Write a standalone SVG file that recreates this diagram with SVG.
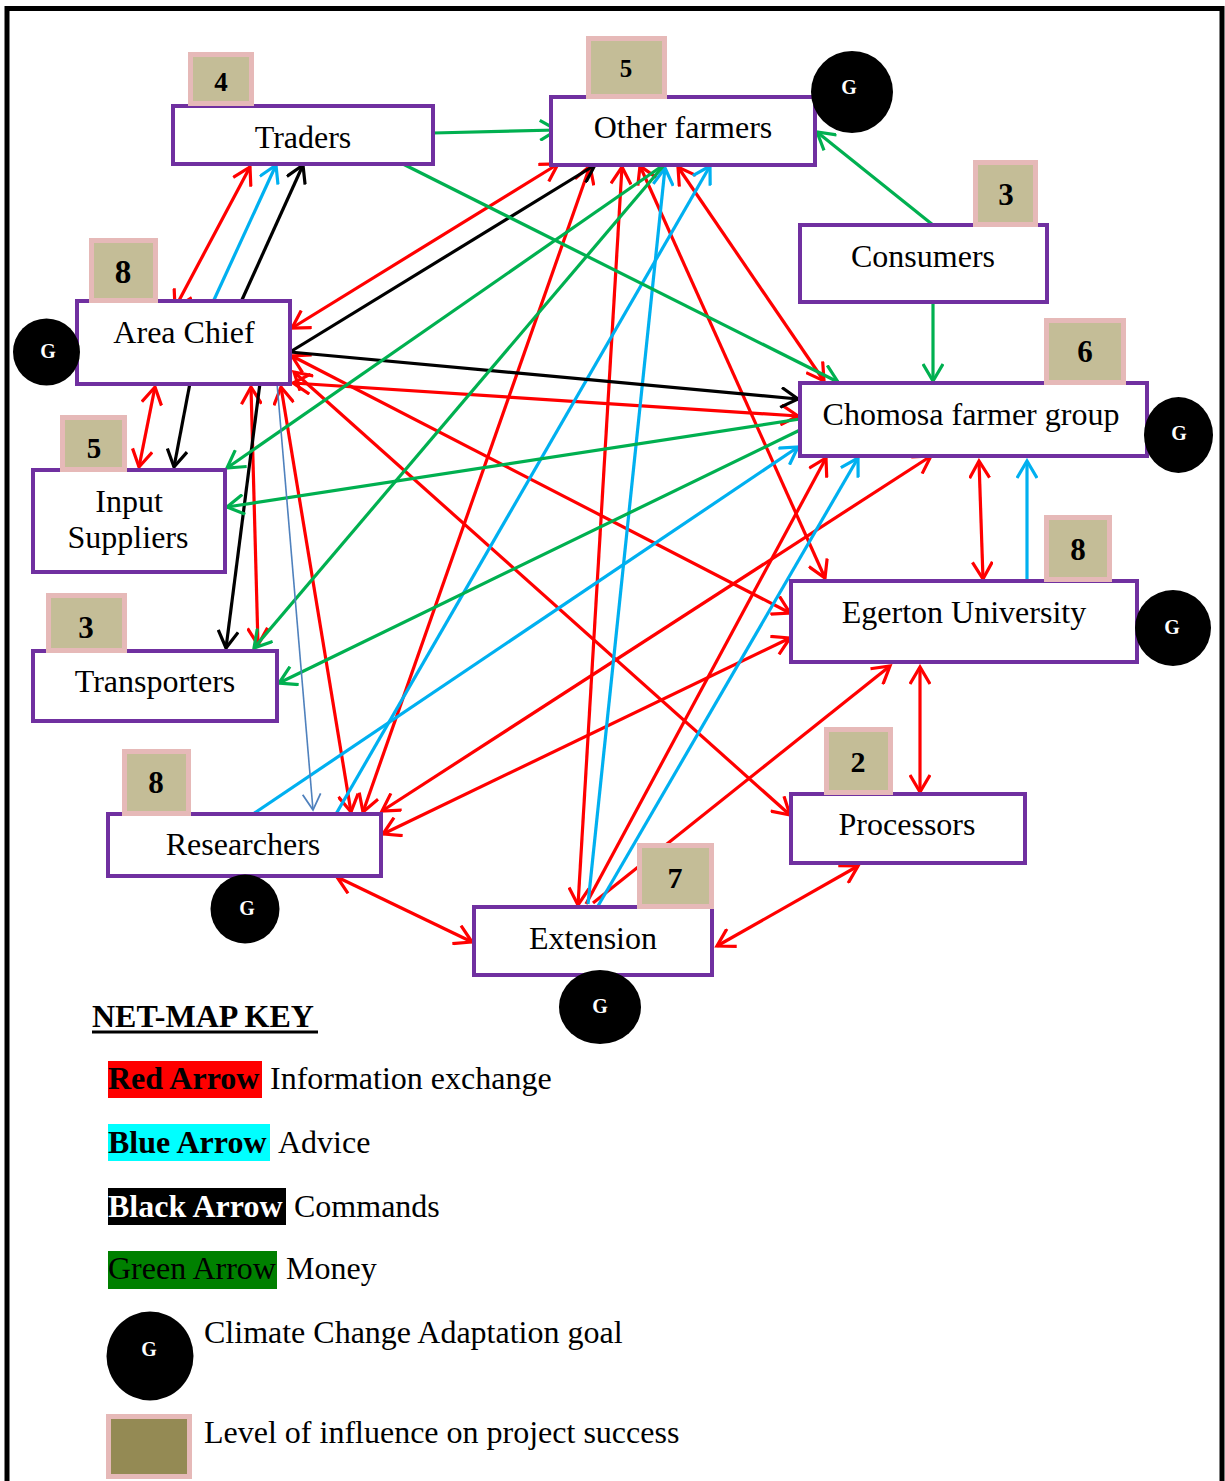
<svg xmlns="http://www.w3.org/2000/svg" width="1225" height="1481" viewBox="0 0 1225 1481">
<style>
.box{fill:#fff;stroke:#7030A0;stroke-width:4}
.badge{fill:#C4BD97;stroke:#E6B9B8;stroke-width:5}
.lbl{font-family:"Liberation Serif","Times New Roman",serif;font-size:32px;fill:#000;text-anchor:middle}
.num{font-family:"Liberation Serif","Times New Roman",serif;font-weight:bold;fill:#000;text-anchor:middle}
.g{fill:#000}
.gt{font-family:"Liberation Serif","Times New Roman",serif;font-weight:bold;font-size:20px;fill:#fff;text-anchor:middle}
.key{font-family:"Liberation Serif","Times New Roman",serif;font-size:32px;fill:#000}
.r{stroke:#FF0000;stroke-width:3.2;fill:none}
.b{stroke:#00B0F0;stroke-width:3.2;fill:none}
.k{stroke:#000;stroke-width:3.2;fill:none}
.gr{stroke:#00B050;stroke-width:3.2;fill:none}
.s{stroke:#4F81BD;stroke-width:1.6;fill:none}
</style>
<defs>
<marker id="mR" viewBox="0 0 22 22" refX="19" refY="11" markerWidth="22" markerHeight="22" markerUnits="userSpaceOnUse" orient="auto-start-reverse"><path d="M2,1 L19,11 L2,21" fill="none" stroke="#FF0000" stroke-width="3.2"/></marker>
<marker id="mB" viewBox="0 0 22 22" refX="19" refY="11" markerWidth="22" markerHeight="22" markerUnits="userSpaceOnUse" orient="auto-start-reverse"><path d="M2,1 L19,11 L2,21" fill="none" stroke="#00B0F0" stroke-width="3.2"/></marker>
<marker id="mK" viewBox="0 0 22 22" refX="19" refY="11" markerWidth="22" markerHeight="22" markerUnits="userSpaceOnUse" orient="auto-start-reverse"><path d="M2,1 L19,11 L2,21" fill="none" stroke="#000" stroke-width="3.2"/></marker>
<marker id="mG" viewBox="0 0 22 22" refX="19" refY="11" markerWidth="22" markerHeight="22" markerUnits="userSpaceOnUse" orient="auto-start-reverse"><path d="M2,1 L19,11 L2,21" fill="none" stroke="#00B050" stroke-width="3.2"/></marker>
<marker id="mS" viewBox="0 0 22 22" refX="19" refY="11" markerWidth="22" markerHeight="22" markerUnits="userSpaceOnUse" orient="auto-start-reverse"><path d="M3,2 L19,11 L3,20" fill="none" stroke="#4F81BD" stroke-width="1.8"/></marker>
</defs>
<rect x="0" y="0" width="1225" height="1481" fill="#fff"/>
<rect x="7" y="8.5" width="1215" height="1500" fill="none" stroke="#000" stroke-width="5"/>

<g id="connectors">
<line class="r" x1="175" y1="308" x2="250" y2="167" marker-start="url(#mR)" marker-end="url(#mR)"/>
<line class="r" x1="558" y1="164" x2="292" y2="328" marker-start="url(#mR)" marker-end="url(#mR)"/>
<line class="r" x1="292" y1="356" x2="790" y2="613" marker-start="url(#mR)" marker-end="url(#mR)"/>
<line class="r" x1="294" y1="372" x2="790" y2="815" marker-start="url(#mR)" marker-end="url(#mR)"/>
<line class="r" x1="293" y1="383" x2="798" y2="416" marker-start="url(#mR)" marker-end="url(#mR)"/>
<line class="r" x1="155" y1="387" x2="139" y2="467" marker-start="url(#mR)" marker-end="url(#mR)"/>
<line class="r" x1="251" y1="387" x2="258" y2="645" marker-start="url(#mR)" marker-end="url(#mR)"/>
<line class="r" x1="281" y1="387" x2="351" y2="812" marker-start="url(#mR)" marker-end="url(#mR)"/>
<line class="r" x1="590" y1="166" x2="363" y2="812" marker-start="url(#mR)" marker-end="url(#mR)"/>
<line class="r" x1="622" y1="167" x2="578" y2="905" marker-start="url(#mR)" marker-end="url(#mR)"/>
<line class="r" x1="640" y1="166" x2="825" y2="578" marker-start="url(#mR)" marker-end="url(#mR)"/>
<line class="r" x1="678" y1="167" x2="824" y2="381" marker-start="url(#mR)" marker-end="url(#mR)"/>
<line class="r" x1="931" y1="456" x2="382" y2="811" marker-start="url(#mR)" marker-end="url(#mR)"/>
<line class="r" x1="790" y1="638" x2="383" y2="834" marker-start="url(#mR)" marker-end="url(#mR)"/>
<line class="r" x1="586" y1="904" x2="826" y2="458" marker-end="url(#mR)"/>
<line class="r" x1="979" y1="461" x2="983" y2="579" marker-start="url(#mR)" marker-end="url(#mR)"/>
<line class="r" x1="593" y1="903" x2="890" y2="666" marker-end="url(#mR)"/>
<line class="r" x1="920" y1="667" x2="920" y2="792" marker-start="url(#mR)" marker-end="url(#mR)"/>
<line class="r" x1="717" y1="946" x2="858" y2="866" marker-start="url(#mR)" marker-end="url(#mR)"/>
<line class="r" x1="337" y1="877" x2="472" y2="942" marker-start="url(#mR)" marker-end="url(#mR)"/>

<line class="b" x1="213" y1="302" x2="276" y2="165" marker-end="url(#mB)"/>
<line class="b" x1="336" y1="814" x2="710" y2="166" marker-end="url(#mB)"/>
<line class="b" x1="588" y1="904" x2="665" y2="168" marker-end="url(#mB)"/>
<line class="b" x1="253" y1="814" x2="798" y2="447" marker-end="url(#mB)"/>
<line class="b" x1="598" y1="906" x2="858" y2="458" marker-end="url(#mB)"/>
<line class="b" x1="1027" y1="581" x2="1027" y2="461" marker-end="url(#mB)"/>

<line class="k" x1="241" y1="302" x2="303" y2="165" marker-end="url(#mK)"/>
<line class="k" x1="290" y1="352" x2="595" y2="165" marker-end="url(#mK)"/>
<line class="k" x1="290" y1="352" x2="798" y2="399" marker-end="url(#mK)"/>
<line class="k" x1="190" y1="383" x2="174" y2="467" marker-end="url(#mK)"/>
<line class="k" x1="260" y1="383" x2="226" y2="648" marker-end="url(#mK)"/>

<line class="gr" x1="433" y1="133" x2="557" y2="130" marker-end="url(#mG)"/>
<line class="gr" x1="933" y1="225" x2="817" y2="132" marker-end="url(#mG)"/>
<line class="gr" x1="403" y1="164" x2="838" y2="382" marker-end="url(#mG)"/>
<line class="gr" x1="933" y1="303" x2="933" y2="381" marker-end="url(#mG)"/>
<line class="gr" x1="665" y1="164" x2="227" y2="468" marker-end="url(#mG)"/>
<line class="gr" x1="665" y1="164" x2="254" y2="648" marker-end="url(#mG)"/>
<line class="gr" x1="800" y1="419" x2="227" y2="507" marker-end="url(#mG)"/>
<line class="gr" x1="800" y1="430" x2="279" y2="683" marker-end="url(#mG)"/>

<line class="s" x1="277" y1="383" x2="313" y2="810" marker-end="url(#mS)"/>
</g>

<g id="traders">
<rect class="box" x="173" y="106" width="260" height="58"/>
<rect class="badge" x="190.5" y="54.5" width="61" height="49"/>
<text class="num" x="221" y="91" font-size="27">4</text>
<text class="lbl" x="303" y="148">Traders</text>
</g>

<g id="other-farmers">
<rect class="box" x="551" y="97" width="264" height="68"/>
<rect class="badge" x="588.5" y="38.5" width="76" height="58"/>
<text class="num" x="626" y="77" font-size="25">5</text>
<text class="lbl" x="683" y="138">Other farmers</text>
<circle class="g" cx="852" cy="92" r="41"/>
<text class="gt" x="849" y="94">G</text>
</g>

<g id="consumers">
<rect class="box" x="800" y="225" width="247" height="77"/>
<rect class="badge" x="975.5" y="162.5" width="60" height="62"/>
<text class="num" x="1006" y="205" font-size="31">3</text>
<text class="lbl" x="923" y="267">Consumers</text>
</g>

<g id="area-chief">
<rect class="box" x="77" y="301" width="213" height="83"/>
<rect class="badge" x="91.5" y="240.5" width="64" height="60"/>
<text class="num" x="123" y="283" font-size="33">8</text>
<text class="lbl" x="184" y="343">Area Chief</text>
<circle class="g" cx="46.5" cy="352" r="33.5"/>
<text class="gt" x="48" y="358">G</text>
</g>

<g id="chomosa">
<rect class="box" x="800" y="383" width="347" height="73"/>
<rect class="badge" x="1046.5" y="320.5" width="77" height="62"/>
<text class="num" x="1085" y="362" font-size="31">6</text>
<text class="lbl" x="971" y="425">Chomosa farmer group</text>
<ellipse class="g" cx="1178.5" cy="435" rx="34.5" ry="38"/>
<text class="gt" x="1179" y="440">G</text>
</g>

<g id="input-suppliers">
<rect class="box" x="33" y="470" width="192" height="102"/>
<rect class="badge" x="62.5" y="417.5" width="62" height="52"/>
<text class="num" x="94" y="458" font-size="29">5</text>
<text class="lbl" x="129" y="512">Input</text>
<text class="lbl" x="128" y="548">Suppliers</text>
</g>

<g id="egerton">
<rect class="box" x="791" y="581" width="346" height="81"/>
<rect class="badge" x="1046.5" y="517.5" width="63" height="62"/>
<text class="num" x="1078" y="560" font-size="31">8</text>
<text class="lbl" x="964" y="623">Egerton University</text>
<circle class="g" cx="1173" cy="628" r="38"/>
<text class="gt" x="1172" y="634">G</text>
</g>

<g id="transporters">
<rect class="box" x="33" y="651" width="244" height="70"/>
<rect class="badge" x="48.5" y="595.5" width="76" height="55"/>
<text class="num" x="86" y="638" font-size="31">3</text>
<text class="lbl" x="155" y="692">Transporters</text>
</g>

<g id="researchers">
<rect class="box" x="108" y="814" width="273" height="62"/>
<rect class="badge" x="124.5" y="751.5" width="64" height="62"/>
<text class="num" x="156" y="793" font-size="31">8</text>
<text class="lbl" x="243" y="855">Researchers</text>
<circle class="g" cx="245" cy="909" r="34.5"/>
<text class="gt" x="247" y="915">G</text>
</g>

<g id="processors">
<rect class="box" x="791" y="794" width="234" height="69"/>
<rect class="badge" x="826.5" y="729.5" width="64" height="63"/>
<text class="num" x="858" y="772" font-size="30">2</text>
<text class="lbl" x="907" y="835">Processors</text>
</g>

<g id="extension">
<rect class="box" x="474" y="907" width="238" height="68"/>
<rect class="badge" x="639.5" y="845.5" width="72" height="61"/>
<text class="num" x="675" y="888" font-size="30">7</text>
<text class="lbl" x="593" y="949">Extension</text>
<ellipse class="g" cx="600" cy="1007" rx="41" ry="37"/>
<text class="gt" x="600" y="1013">G</text>
</g>

<g id="key">
<text class="key" x="92" y="1027" font-weight="bold">NET-MAP KEY</text>
<line x1="92" y1="1032" x2="318" y2="1032" stroke="#000" stroke-width="3"/>
<rect x="108" y="1061" width="154" height="37" fill="#FF0000"/>
<text class="key" x="108" y="1089" font-weight="bold">Red Arrow</text>
<text class="key" x="270" y="1089">Information exchange</text>
<rect x="108" y="1124" width="162" height="37" fill="#00FFFF"/>
<text class="key" x="108" y="1153" font-weight="bold">Blue Arrow</text>
<text class="key" x="278" y="1153">Advice</text>
<rect x="108" y="1188" width="178" height="37" fill="#000"/>
<text class="key" x="108" y="1217" font-weight="bold" fill="#fff" style="fill:#fff">Black Arrow</text>
<text class="key" x="294" y="1217">Commands</text>
<rect x="108" y="1251" width="169" height="38" fill="#008000"/>
<text class="key" x="108" y="1279">Green Arrow</text>
<text class="key" x="286" y="1279">Money</text>
<ellipse class="g" cx="150" cy="1356" rx="43.5" ry="44.5"/>
<text class="gt" x="149" y="1356">G</text>
<text class="key" x="204" y="1343">Climate Change Adaptation goal</text>
<rect x="108.5" y="1416.5" width="81" height="60" fill="#948A54" stroke="#E6B9B8" stroke-width="5"/>
<text class="key" x="204" y="1443">Level of influence on project success</text>
</g>
</svg>
